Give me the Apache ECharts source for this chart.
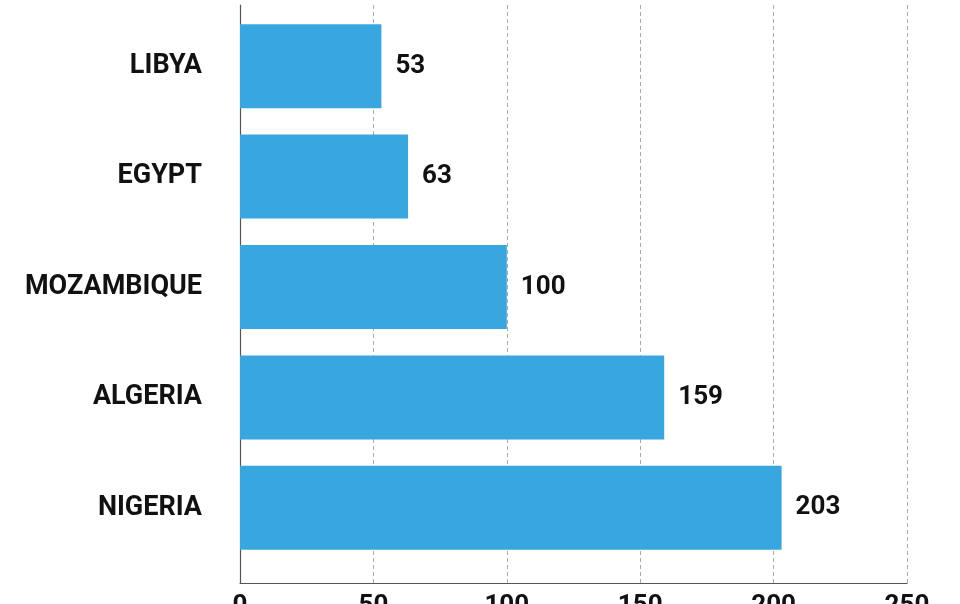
<!DOCTYPE html>
<html>
<head>
<meta charset="utf-8">
<style>
  html, body { margin: 0; padding: 0; background: #fff; }
  #chart { width: 960px; height: 604px; }
</style>
<script src="https://cdn.jsdelivr.net/npm/echarts@6/dist/echarts.min.js"></script>
</head>
<body>
<div id="chart"></div>
<script>
const countries = ['LIBYA', 'EGYPT', 'MOZAMBIQUE', 'ALGERIA', 'NIGERIA'];
const values = [53, 63, 100, 159, 203];
const xTicks = [0, 50, 100, 150, 200, 250];

const font = 'Roboto, "Liberation Sans", sans-serif';
const barColor = '#38a7e0';

const chart = echarts.init(document.getElementById('chart'));

const option = {
  animation: false,
  grid: [
    // frame grid: axis lines, dashed grid, ticks
    { left: 240, right: 53, top: 5, bottom: 21, outerBoundsMode: 'none', containLabel: false },
    // bars
    { left: 240, right: 53, top: 11, bottom: 41, outerBoundsMode: 'none', containLabel: false },
  ],
  xAxis: [
    {
      gridIndex: 0,
      type: 'value',
      min: xTicks[0],
      max: xTicks[xTicks.length - 1],
      interval: 50,
      axisLine: { show: true, lineStyle: { color: '#555', width: 1.2 } },
      axisTick: { show: false },
      splitLine: { show: true, lineStyle: { color: '#aaa', type: [4, 3], width: 1 } },
      axisLabel: {
        margin: 10,
        fontFamily: font, fontWeight: 'bold', fontSize: 26, color: '#111',
      },
    },
    {
      gridIndex: 1,
      type: 'value',
      min: xTicks[0],
      max: xTicks[xTicks.length - 1],
      show: false,
    },
  ],
  yAxis: [
    {
      gridIndex: 0,
      type: 'value',
      axisLine: { show: true, lineStyle: { color: '#555', width: 1.2 } },
      axisTick: { show: false },
      axisLabel: { show: false },
      splitLine: { show: false },
    },
    {
      gridIndex: 1,
      type: 'category',
      inverse: true,
      data: countries,
      axisLine: { show: false },
      axisTick: { show: false },
      axisLabel: {
        margin: 38,
        fontFamily: font, fontWeight: 'bold', fontSize: 27, color: '#111',
      },
    },
  ],
  series: [
    {
      type: 'bar',
      xAxisIndex: 1,
      yAxisIndex: 1,
      data: values,
      barWidth: 84,
      itemStyle: { color: barColor },
      label: {
        show: true,
        position: 'right',
        distance: 14,
        fontFamily: font, fontWeight: 'bold', fontSize: 26, color: '#111',
      },
    },
  ],
};

chart.setOption(option);
</script>
</body>
</html>
